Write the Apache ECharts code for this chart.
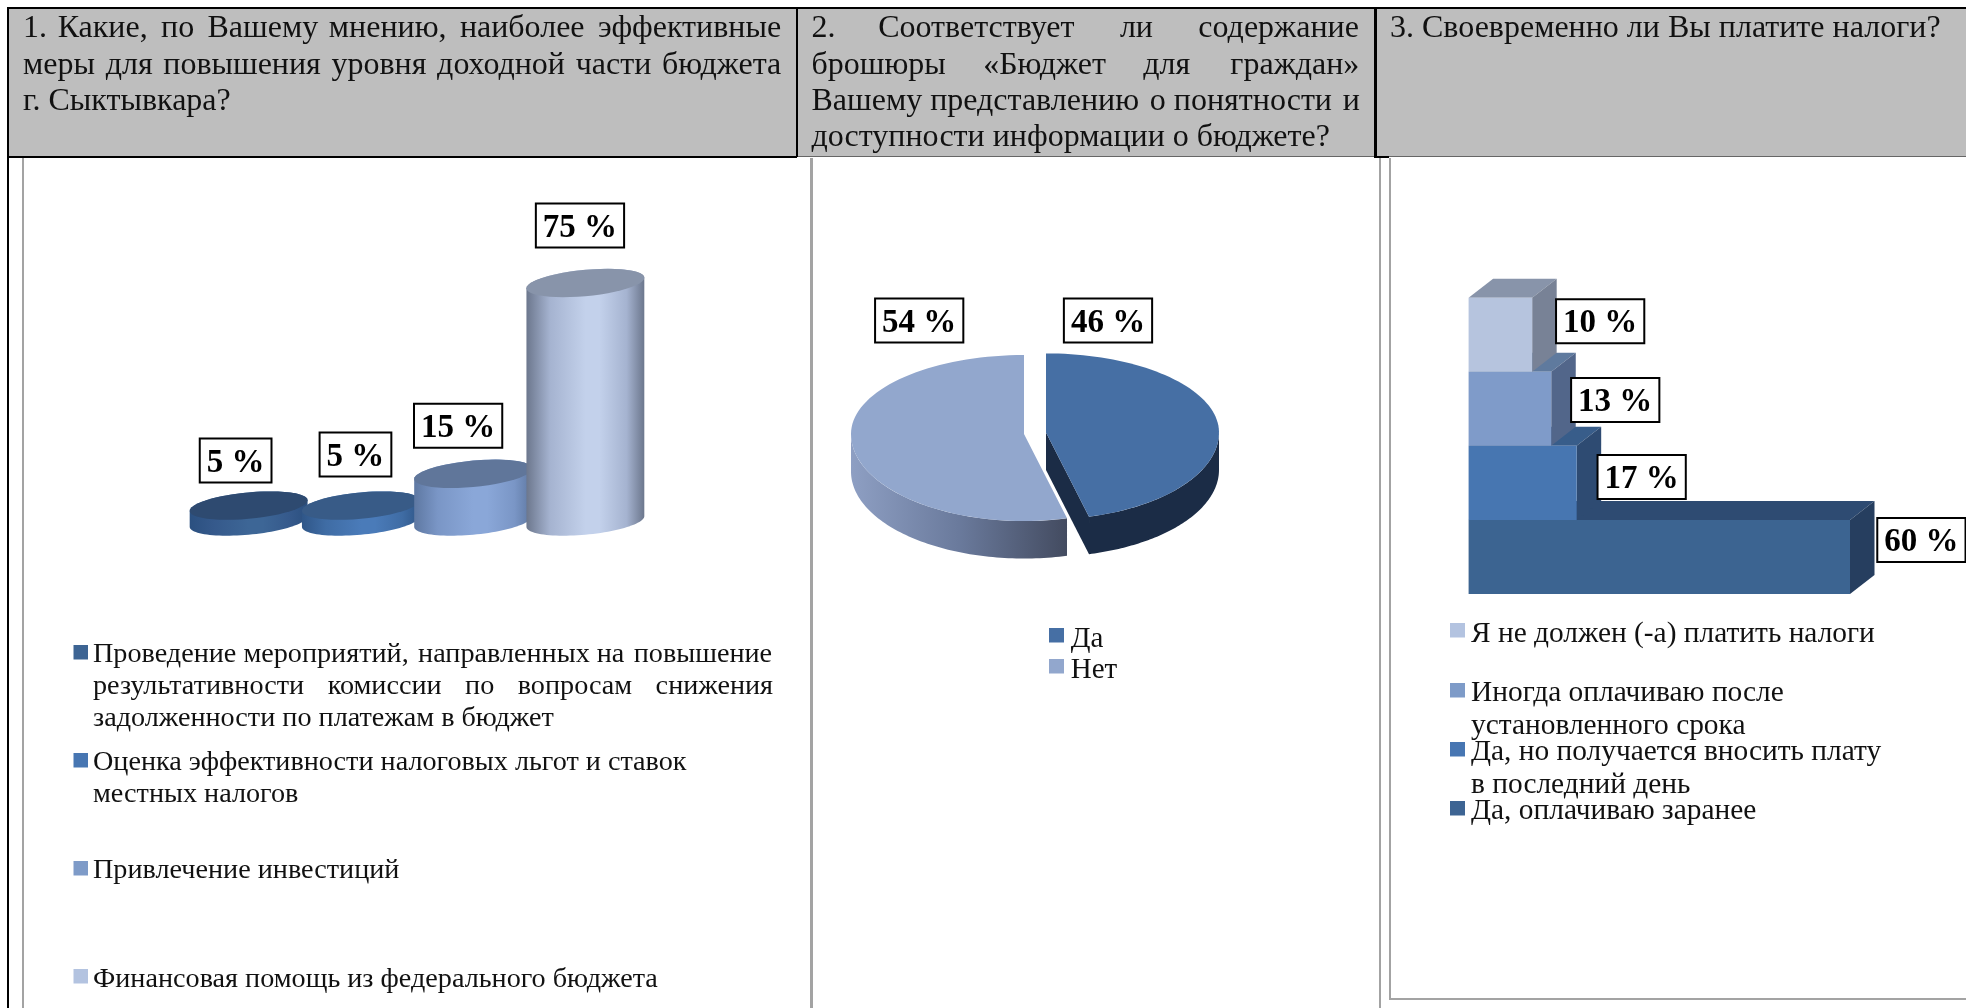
<!DOCTYPE html>
<html>
<head>
<meta charset="utf-8">
<style>html,body{margin:0;padding:0;background:#fff}#c{width:1966px;height:1008px}</style>
<script src="https://cdn.jsdelivr.net/npm/echarts@6/dist/echarts.min.js"></script>
</head>
<body>
<div id="c"></div>
<script>
// ---- data ----
const cylCategories = ['Проведение мероприятий', 'Оценка эффективности', 'Привлечение инвестиций', 'Финансовая помощь'];
const cylValues = [5, 5, 15, 75];
const pieCategories = ['Да', 'Нет'];
const pieValues = [46, 54];
const barCategories = ['Да, оплачиваю заранее', 'Да, но получается вносить плату в последний день', 'Иногда оплачиваю после установленного срока', 'Я не должен (-а) платить налоги'];
const barValues = [60, 17, 13, 10];
const header1 = ['1. Какие, по Вашему мнению, наиболее эффективные', 'меры для повышения уровня доходной части бюджета', 'г. Сыктывкара?'];
const header2 = ['2. Соответствует ли содержание', 'брошюры «Бюджет для граждан»', 'Вашему представлению о понятности и', 'доступности информации о бюджете?'];
const header3 = ['3. Своевременно ли Вы платите налоги?'];
const legend1 = [
  ['Проведение мероприятий, направленных на повышение', 'результативности комиссии по вопросам снижения', 'задолженности по платежам в бюджет'],
  ['Оценка эффективности налоговых льгот и ставок', 'местных налогов'],
  ['Привлечение инвестиций'],
  ['Финансовая помощь из федерального бюджета']
];
const legend2 = [['Да'], ['Нет']];
const legend3 = [
  ['Я не должен (-а) платить налоги'],
  ['Иногда оплачиваю после', 'установленного срока'],
  ['Да, но получается вносить плату', 'в последний день'],
  ['Да, оплачиваю заранее']
];

// ---- styles & layout ----
const SERIF = '"Liberation Serif","Times New Roman",serif';
const HEAD_FS = 32, LAB_FS = 33;
const labelFont = 'bold ' + LAB_FS + 'px ' + SERIF;
const cylOffsets = [[-13, -45], [-5.4, -51], [-15, -48], [-5.4, -57.5]];
const barOffsets = [[71.4, -17], [65, -5.8], [64, -8.7], [68, -13.5]];
const cylStyle = [
  { top: '#2e4a70', edge: '#2b5080', near: '#35598b', mid: '#3d6696' },
  { top: '#385b87', edge: '#2f5688', near: '#3f6ca4', mid: '#4a7bb9' },
  { top: '#60769a', edge: '#5e78a2', near: '#7a96c6', mid: '#8aa7d8' },
  { top: '#8894aa', edge: '#6c778d', near: '#a5b3d0', mid: '#c3d1eb' }
];
const barStyle = [
  { front: '#3c6491', side: '#263e5f', top: '#2e4b72' },
  { front: '#4776b1', side: '#2e4b72', top: '#385d8a' },
  { front: '#7f9bc9', side: '#52668a', top: '#5f7a9e' },
  { front: '#b6c4de', side: '#788296', top: '#8894aa' }
];
const pieLayout = [
  { cx: 1046, cy: 432.4, top: '#466fa4' },
  { cx: 1024, cy: 434, top: '#92a7cd' }
];
const PIE = { rx: 173, ryBack: 79, ryFront: 87, depth: 37.5 };
const BAR_DEPTH = [24.5, 19];
const CYL_K = 0.09, CYL_B = 13.2;

const LG = echarts.graphic.LinearGradient;
const mctx = document.createElement('canvas').getContext('2d');
function boxLabel(text, x, y) {
  mctx.font = labelFont;
  const w = mctx.measureText(text).width + 14, h = 44;
  return {
    type: 'group',
    children: [
      { type: 'rect', z2: 100, shape: { x: x - w / 2, y: y - h / 2, width: w, height: h },
        style: { fill: '#fff', stroke: '#000', lineWidth: 2 } },
      { type: 'text', x: x, y: y + 2.5, z2: 101,
        style: { text: text, font: labelFont, fill: '#000', align: 'center', verticalAlign: 'middle' } }
    ]
  };
}
function renderCyl(params, api) {
  const i = params.dataIndex, v = api.value(1);
  const top = api.coord([i, v]), base = api.coord([i, 0]);
  const a = api.size([1, 0])[0] * 0.525, s = cylStyle[i];
  const ell = (c, from, to) => {
    const pts = [];
    for (let k = 0; k <= 48; k++) {
      const t = from + (to - from) * k / 48;
      pts.push([c[0] + a * Math.cos(t), c[1] + CYL_B * Math.sin(t) - CYL_K * a * Math.cos(t)]);
    }
    return pts;
  };
  const body = ell(base, 0, Math.PI).concat(ell(top, Math.PI, 2 * Math.PI));
  return {
    type: 'group',
    children: [
      { type: 'polygon', shape: { points: body }, style: {
        fill: new LG(0, 0, 1, 0, [
          { offset: 0, color: s.edge }, { offset: 0.2, color: s.near }, { offset: 0.5, color: s.mid },
          { offset: 0.62, color: s.mid }, { offset: 0.85, color: s.near }, { offset: 1, color: s.edge }]) } },
      { type: 'polygon', shape: { points: ell(top, 0, 2 * Math.PI) }, style: { fill: s.top } },
      boxLabel(cylValues[i] + ' %', top[0] + cylOffsets[i][0], top[1] + cylOffsets[i][1])
    ]
  };
}
function renderBar(params, api) {
  const i = params.dataIndex, v = api.value(0);
  const end = api.coord([v, i]), start = api.coord([0, i]);
  const h = api.size([0, 1])[1], s = barStyle[i];
  const x0 = start[0], x1 = end[0], y0 = end[1] - h / 2, y1 = end[1] + h / 2;
  const dx = BAR_DEPTH[0], dy = BAR_DEPTH[1];
  return {
    type: 'group',
    children: [
      { type: 'polygon', shape: { points: [[x0, y0], [x1, y0], [x1 + dx, y0 - dy], [x0 + dx, y0 - dy]] }, style: { fill: s.top } },
      { type: 'polygon', shape: { points: [[x1, y0], [x1 + dx, y0 - dy], [x1 + dx, y1 - dy], [x1, y1]] }, style: { fill: s.side } },
      { type: 'rect', shape: { x: x0, y: y0, width: x1 - x0, height: y1 - y0 }, style: { fill: s.front } },
      boxLabel(v + ' %', x1 + barOffsets[i][0], end[1] + barOffsets[i][1])
    ]
  };
}
function renderPie(params, api) {
  const i = params.dataIndex, v = api.value(0);
  const total = pieValues.reduce((p, c) => p + c, 0);
  const prior = pieValues.slice(0, i).reduce((p, c) => p + c, 0);
  const a0 = prior / total * 2 * Math.PI, a1 = (prior + v) / total * 2 * Math.PI;
  const L = pieLayout[i];
  const pt = (t, d) => {
    const c = Math.cos(t);
    return [L.cx + PIE.rx * Math.sin(t), L.cy + d - c * (c > 0 ? PIE.ryBack : PIE.ryFront)];
  };
  const arc = (from, to, d) => {
    const pts = [];
    for (let k = 0; k <= 80; k++) pts.push(pt(from + (to - from) * k / 80, d));
    return pts;
  };
  const children = [];
  const visFrom = Math.max(a0, Math.PI / 2), visTo = Math.min(a1, 3 * Math.PI / 2);
  const rim = arc(visFrom, visTo, 0).concat(arc(visTo, visFrom, PIE.depth));
  if (i === 0) {
    const e = pt(a1, 0);
    children.push({ type: 'polygon', shape: { points: rim }, style: { fill: '#1b2c46' } });
    children.push({ type: 'polygon', shape: { points: [[L.cx, L.cy], e, [e[0], e[1] + PIE.depth], [L.cx, L.cy + PIE.depth]] }, style: { fill: '#1b2c46' } });
  } else {
    children.push({ type: 'polygon', shape: { points: rim }, style: {
      fill: new LG(0, 0, 1, 0, [{ offset: 0, color: '#8e9fc3' }, { offset: 0.5, color: '#6a7a9c' }, { offset: 1, color: '#434b60' }]) } });
  }
  children.push({ type: 'polygon', shape: { points: [[L.cx, L.cy]].concat(arc(a0, a1, 0)) }, style: { fill: L.top } });
  const mid = [[1108, 320.5], [919.2, 320.5]][i];
  children.push(boxLabel(v + ' %', mid[0], mid[1]));
  return { type: 'group', children: children };
}

// ---- text helpers ----
function justify(line, width, font) {
  mctx.font = font;
  const words = line.split(' ');
  if (words.length < 2) return line;
  const extra = width - mctx.measureText(line).width;
  const gaps = words.length - 1, sp = mctx.measureText(' ').width, hair = mctx.measureText('\u200A').width || 2.5;
  let out = words[0], cur = 0;
  for (let g = 0; g < gaps; g++) {
    const want = extra * (g + 1) / gaps;
    out += ' ';
    while (cur + sp <= want) { out += ' '; cur += sp; }
    while (cur + hair <= want) { out += '\u200A'; cur += hair; }
    out += words[g + 1];
  }
  return out;
}
function textEl(text, x, baseline, fs, dy) {
  return { type: 'text', x: x, y: baseline - 0.3375 * fs + dy, z: 5, silent: true,
    style: { text: text, font: fs + 'px ' + SERIF, fill: '#111', align: 'left', verticalAlign: 'middle' } };
}
function rectEl(x, y, w, h, fill, z) {
  return { type: 'rect', shape: { x: x, y: y, width: w, height: h }, z: z || 1, silent: true, style: { fill: fill } };
}
const graphics = [
  rectEl(8, 8, 1958, 148, '#bebebe'),
  rectEl(7, 7, 1959, 2, '#000', 2),
  rectEl(7, 7, 2, 1001, '#000', 2),
  rectEl(7, 156, 790, 2, '#000', 2),
  rectEl(797, 156, 578, 1, '#666', 2),
  rectEl(1375, 156, 14, 2, '#000', 2),
  rectEl(1389, 156, 577, 1, '#666', 2),
  rectEl(796, 9, 2, 148, '#000', 2),
  rectEl(1374, 9, 3, 149, '#000', 2),
  rectEl(22, 158, 2, 850, '#a3a3a3'),
  rectEl(810, 158, 3, 850, '#a3a3a3'),
  rectEl(1379, 158, 2, 850, '#a3a3a3'),
  rectEl(1389, 158, 2, 842, '#a3a3a3'),
  rectEl(1389, 998, 577, 2, '#a3a3a3')
];
const headFont = HEAD_FS + 'px ' + SERIF;
[[header1, 23, [759, 759, 0], [38, 74.5, 111]], [header2, 811.5, [548.5, 548.5, 548.5, 0], [38, 74.5, 111, 147.3]], [header3, 1390, [0], [38]]].forEach(h => {
  h[0].forEach((ln, j) => {
    graphics.push(textEl(h[2][j] ? justify(ln, h[2][j], headFont) : ln, h[1], h[3][j], HEAD_FS, 1.5));
  });
});
function legendBlock(lines, colors, fs, mx, mw, my, tx, baselines, justW) {
  const f = fs + 'px ' + SERIF;
  lines.forEach((group, i) => {
    graphics.push(rectEl(mx, my[i], mw, 14.5, colors[i], 3));
    group.forEach((ln, j) => {
      const just = justW && justW[i] && j < justW[i].length ? justW[i][j] : 0;
      graphics.push(textEl(just ? justify(ln, just, f) : ln, tx, baselines[i][j], fs, 2.5));
    });
  });
}
const leg1Colors = ['#3d6493', '#4776b2', '#7e9bc8', '#b3c3e0'];
legendBlock(legend1, leg1Colors, 28.2, 73.5, 14.5, [645, 753, 861, 969], 93,
  [[661.7, 694, 725.7], [770, 801.7], [877.7], [986.7]], [[680.5, 680.5]]);
legendBlock(legend2, ['#466fa4', '#92a7cd'], 29, 1049, 15, [628, 659], 1070.7, [[647], [678]]);
legendBlock(legend3, ['#b3c3e0', '#7e9bc8', '#4776b2', '#3d6493'], 29.4, 1450, 15, [623, 683, 742, 801], 1471,
  [[641.7], [700.7, 734], [760, 792.7], [819]]);

const chart = echarts.init(document.getElementById('c'), null, { renderer: 'canvas' });
chart.setOption({
  animation: false,
  backgroundColor: '#fff',
  grid: [
    { left: 192.5, top: 283, width: 449, height: 238.5, show: false },
    { left: 1468.6, top: 297.7, width: 381.4, height: 296.3, show: false }
  ],
  xAxis: [
    { gridIndex: 0, type: 'category', data: cylCategories, show: false },
    { gridIndex: 1, type: 'value', min: 0, max: 60, show: false }
  ],
  yAxis: [
    { gridIndex: 0, type: 'value', min: 0, max: 75, show: false },
    { gridIndex: 1, type: 'category', data: barCategories, show: false }
  ],
  graphic: { elements: graphics },
  tooltip: { show: false },
  series: [
    { type: 'custom', xAxisIndex: 0, yAxisIndex: 0, renderItem: renderCyl, silent: true,
      encode: { x: 0, y: 1 }, data: cylValues.map((v, i) => [i, v]) },
    { type: 'custom', coordinateSystem: 'none', renderItem: renderPie, silent: true,
      data: pieValues.map(v => [v]) },
    { type: 'custom', xAxisIndex: 1, yAxisIndex: 1, renderItem: renderBar, silent: true,
      encode: { x: 0, y: 1 }, data: barValues.map((v, i) => [v, i]) }
  ]
});
</script>
</body>
</html>
